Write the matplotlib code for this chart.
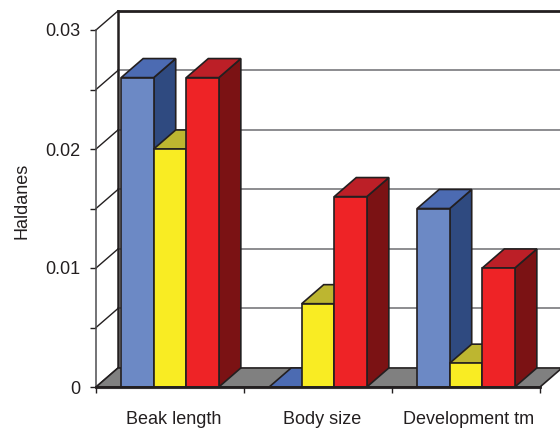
import matplotlib
matplotlib.use('Agg')
import matplotlib.pyplot as plt
from matplotlib.patches import Polygon

plt.rcParams['font.family'] = ['Liberation Sans', 'DejaVu Sans']

categories = ['Beak length', 'Body size', 'Development tm']
blue_values = [0.026, 0.0, 0.015]
yellow_values = [0.020, 0.007, 0.002]
red_values = [0.026, 0.016, 0.010]

value_ticks = [0, 0.005, 0.01, 0.015, 0.02, 0.025, 0.03]
value_labels = ['0', '', '0.01', '', '0.02', '', '0.03']

# front, top, side
blue_cols = ['#6c89c5', '#4c6bb2', '#2f4a80']
yellow_cols = ['#f9ec23', '#bdb630', '#7d7a1a']
red_cols = ['#ee2326', '#bc1f27', '#7b1214']

edge = '#231f20'
bar_w = 0.22
depth_x = 0.1486   # fake 3d depth in data units
depth_y = 0.0016

fig = plt.figure(figsize=(5.6, 4.29), dpi=100)
ax = fig.add_axes([96 / 560, (429 - 387) / 429, 444 / 560, 357 / 429])
ax.set_xlim(0, 3)
ax.set_ylim(0, 0.03)


def poly(pts, col, z, lw=1.2):
    p = Polygon(pts, closed=True, facecolor=col, edgecolor=edge, linewidth=lw,
                joinstyle='miter', zorder=z, clip_on=False)
    ax.add_patch(p)


def bar3d(x0, v, cols, z):
    x1 = x0 + bar_w
    if v > 0:
        poly([(x1, 0), (x1 + depth_x, depth_y), (x1 + depth_x, v + depth_y), (x1, v)], cols[2], z)
    poly([(x0, v), (x1, v), (x1 + depth_x, v + depth_y), (x0 + depth_x, v + depth_y)], cols[1], z)
    if v > 0:
        poly([(x0, 0), (x1, 0), (x1, v), (x0, v)], cols[0], z)


# back wall grid lines and the diagonals on the left wall
for v in value_ticks:
    if 0 < v < 0.03:
        ax.plot([depth_x, 3 + depth_x], [v + depth_y, v + depth_y], color='#6d6e71', lw=1.1,
                zorder=1, clip_on=False)
    ax.plot([0, depth_x], [v, v + depth_y], color=edge, lw=1.0, zorder=1, clip_on=False)

# back wall frame
ax.plot([depth_x, depth_x], [depth_y, 0.03 + depth_y], color=edge, lw=1.8, zorder=2, clip_on=False)
ax.plot([depth_x, 3 + depth_x], [0.03 + depth_y, 0.03 + depth_y], color=edge, lw=2.0, zorder=2, clip_on=False)

# floor
poly([(0, 0), (3, 0), (3 + depth_x, depth_y), (depth_x, depth_y)], '#808080', 3)

for i in range(len(categories)):
    x0 = i + 0.5 - 1.5 * bar_w
    bar3d(x0, blue_values[i], blue_cols, 4)
    bar3d(x0 + bar_w, yellow_values[i], yellow_cols, 5)
    bar3d(x0 + 2 * bar_w, red_values[i], red_cols, 6)

ax.plot([0, 3], [0, 0], color=edge, lw=2.0, zorder=7, clip_on=False)
ax.plot([0, 3], [-0.00012, -0.00012], color='#c8c8c8', lw=1.0, zorder=0, clip_on=False)

for s in ['top', 'right']:
    ax.spines[s].set_visible(False)
ax.spines['left'].set_color('#4d4d4f')
ax.spines['left'].set_linewidth(1.1)
ax.spines['bottom'].set_visible(False)
ax.patch.set_visible(False)

ax.set_yticks(value_ticks)
ax.set_yticklabels(value_labels, fontsize=13, color='#231f20')
ax.set_xticks([0, 1, 2, 3])
ax.set_xticklabels([])
ax.set_xticks([0.525, 1.525, 2.515], minor=True)
ax.set_xticklabels(categories, minor=True, fontsize=13, color='#231f20')
ax.tick_params(axis='x', which='minor', length=0, pad=17.2)
ax.tick_params(axis='x', which='major', length=4, width=1.0, color=edge)
ax.tick_params(axis='y', length=4, width=1.0, color=edge, pad=7.3)
ax.set_ylabel('Haldanes', fontsize=13, color='#231f20')
ax.yaxis.set_label_coords(-0.148, 0.522)

fig.savefig('out.png', dpi=100)
